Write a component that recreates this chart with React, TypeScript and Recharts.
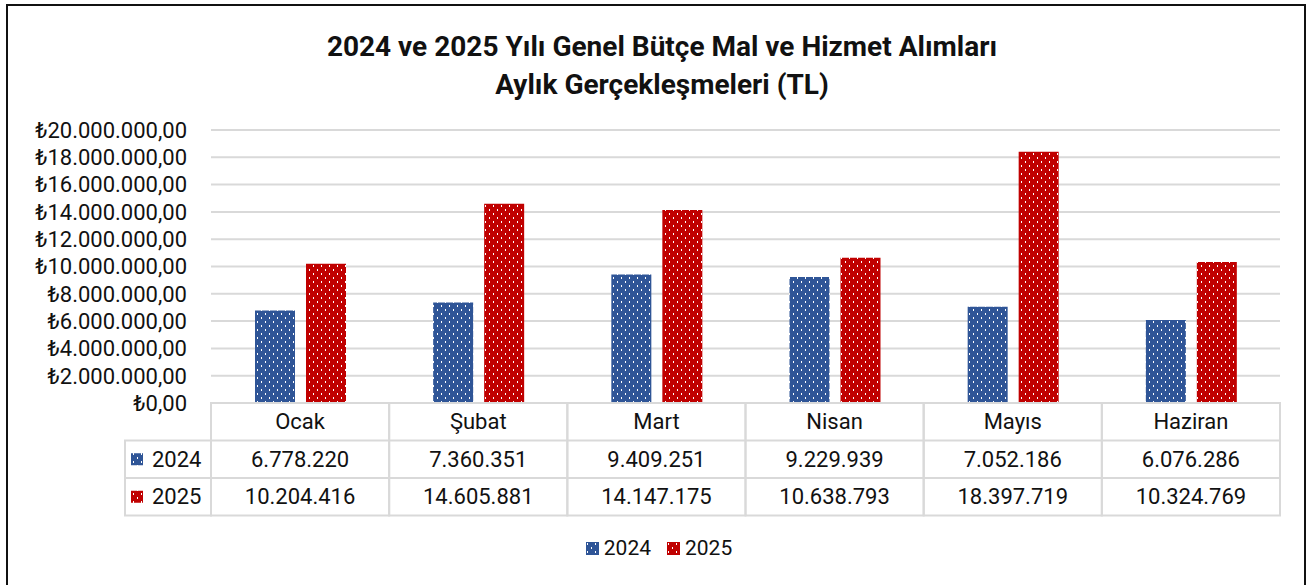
import { Bar, BarChart, CartesianGrid, Legend, XAxis, YAxis } from "recharts";

const months = ["Ocak", "Şubat", "Mart", "Nisan", "Mayıs", "Haziran"];
const values2024 = [6778220, 7360351, 9409251, 9229939, 7052186, 6076286];
const values2025 = [10204416, 14605881, 14147175, 10638793, 18397719, 10324769];
const yTicks = [0, 2000000, 4000000, 6000000, 8000000, 10000000, 12000000, 14000000, 16000000, 18000000, 20000000];

const data = months.map((m, i) => ({ month: m, y2024: values2024[i], y2025: values2025[i] }));

const W = 1310;
const H = 585;
const M = { top: 130, right: 30, bottom: 70, left: 0 };
const Y_AXIS_W = 211;
const COL_W = (W - M.right - M.left - Y_AXIS_W) / months.length;
const ROW_H = 37.5;
const HEAD_W = 86;
const FONT = "Roboto, 'DejaVu Sans', sans-serif";
const GRID = "#d9d9d9";
const BLUE = "#2f5597";
const RED = "#c00000";

const dotted = (v: number) => Math.round(v).toString().replace(/\B(?=(\d{3})+(?!\d))/g, ".");

function money(v: number) {
  return `₺${dotted(v)},00`;
}

function TableTick(props: any) {
  const { x, y, payload, index } = props;
  const i = index ?? payload.index;
  const left = x - COL_W / 2;
  const rows = [
    { key: "2024", text: dotted(values2024[i]), fill: "url(#dotBlue)" },
    { key: "2025", text: dotted(values2025[i]), fill: "url(#dotRed)" },
  ];
  return (
    <g fontFamily={FONT} fontSize={22} fill="#111">
      <rect x={left} y={y} width={COL_W} height={ROW_H * 3} fill="none" stroke={GRID} strokeWidth={2} />
      <line x1={left} x2={left + COL_W} y1={y + ROW_H} y2={y + ROW_H} stroke={GRID} strokeWidth={2} />
      <line x1={left} x2={left + COL_W} y1={y + ROW_H * 2} y2={y + ROW_H * 2} stroke={GRID} strokeWidth={2} />
      <text x={x} y={y + ROW_H / 2} textAnchor="middle" dominantBaseline="central">
        {payload.value}
      </text>
      {rows.map((r, k) => (
        <text key={r.key} x={x} y={y + ROW_H * (k + 1.5)} textAnchor="middle" dominantBaseline="central">
          {r.text}
        </text>
      ))}
      {i === 0 && (
        <g>
          <rect x={left - HEAD_W} y={y + ROW_H} width={HEAD_W} height={ROW_H * 2} fill="none" stroke={GRID} strokeWidth={2} />
          <line x1={left - HEAD_W} x2={left} y1={y + ROW_H * 2} y2={y + ROW_H * 2} stroke={GRID} strokeWidth={2} />
          {rows.map((r, k) => (
            <g key={r.key}>
              <rect x={left - HEAD_W + 6} y={y + ROW_H * (k + 1.5) - 6} width={12} height={12} fill={r.fill} />
              <text x={left - HEAD_W + 27} y={y + ROW_H * (k + 1.5)} dominantBaseline="central">
                {r.key}
              </text>
            </g>
          ))}
        </g>
      )}
    </g>
  );
}

function LegendContent() {
  const items = [
    { key: "2024", fill: "url(#dotBlue)" },
    { key: "2025", fill: "url(#dotRed)" },
  ];
  return (
    <div style={{ display: "flex", justifyContent: "center", gap: 16, fontFamily: FONT, fontSize: 21, color: "#111" }}>
      {items.map((it) => (
        <div key={it.key} style={{ display: "flex", alignItems: "center", gap: 5 }}>
          <svg width={13} height={13}>
            <rect width={13} height={13} fill={it.fill} />
          </svg>
          <span>{it.key}</span>
        </div>
      ))}
    </div>
  );
}

export default function App() {
  return (
    <div style={{ position: "absolute", left: 0, top: 0, width: W, height: H, background: "#fff" }}>
      <div
        style={{
          position: "absolute",
          left: 6,
          top: 4,
          width: 1300,
          height: 620,
          border: "2px solid #111",
          boxSizing: "border-box",
        }}
      />
      <div
        style={{
          position: "absolute",
          left: 12,
          top: 28,
          width: 1300,
          textAlign: "center",
          fontFamily: FONT,
          fontWeight: 700,
          fontSize: 28,
          lineHeight: "38px",
          color: "#111",
        }}
      >
        2024 ve 2025 Yılı Genel Bütçe Mal ve Hizmet Alımları
        <br />
        Aylık Gerçekleşmeleri (TL)
      </div>
      <div style={{ position: "absolute", left: 0, top: 0 }}>
        <BarChart width={W} height={H} data={data} margin={M} barSize={40} barGap={11}>
          <defs>
            <pattern id="dotBlue" width={8} height={8} patternUnits="userSpaceOnUse">
              <rect width={8} height={8} fill={BLUE} />
              <rect x={1} y={1} width={1} height={2} fill="#fff" />
              <rect x={5} y={5} width={1} height={2} fill="#fff" />
            </pattern>
            <pattern id="dotRed" width={8} height={8} patternUnits="userSpaceOnUse">
              <rect width={8} height={8} fill={RED} />
              <rect x={1} y={1} width={1} height={2} fill="#fff" />
              <rect x={5} y={5} width={1} height={2} fill="#fff" />
            </pattern>
          </defs>
          <CartesianGrid vertical={false} stroke={GRID} strokeWidth={2} />
          <XAxis
            dataKey="month"
            axisLine={false}
            tickLine={false}
            tickSize={0}
            tickMargin={0}
            height={112}
            interval={0}
            tick={<TableTick />}
          />
          <YAxis
            width={Y_AXIS_W}
            domain={[0, 20000000]}
            ticks={yTicks}
            interval={0}
            axisLine={false}
            tickLine={false}
            tickMargin={18}
            tickFormatter={money}
            tick={{ fill: "#111", fontSize: 22, fontFamily: FONT }}
          />
          <Legend
            layout="horizontal"
            verticalAlign="middle"
            align="center"
            wrapperStyle={{ top: 536, left: 4, width: W }}
            content={<LegendContent />}
          />
          <Bar dataKey="y2024" name="2024" fill="url(#dotBlue)" isAnimationActive={false} />
          <Bar dataKey="y2025" name="2025" fill="url(#dotRed)" isAnimationActive={false} />
        </BarChart>
      </div>
    </div>
  );
}
